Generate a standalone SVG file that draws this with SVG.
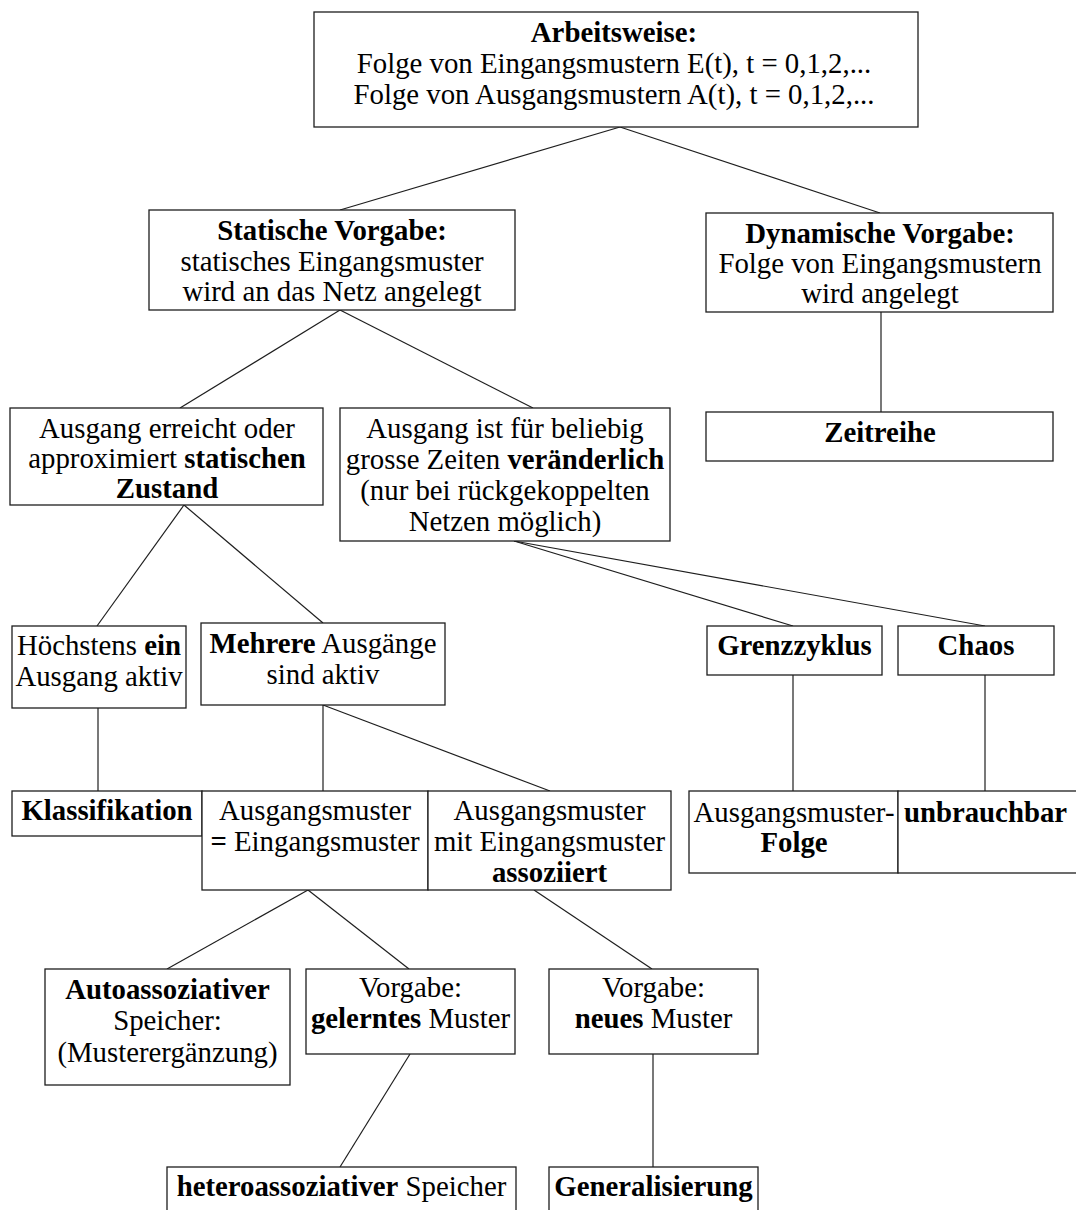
<svg xmlns="http://www.w3.org/2000/svg" width="1076" height="1210" viewBox="0 0 1076 1210">
  <style>
    .box { fill: #ffffff; stroke: #1e1e1e; stroke-width: 1.3; }
    .edge { fill: none; stroke: #1e1e1e; stroke-width: 1.2; }
    text { font-family: "Liberation Serif", "Times New Roman", serif; font-size: 28.8px; fill: #000000; text-anchor: middle; }
    .b { font-weight: bold; }
  </style>
  <rect x="0" y="0" width="1076" height="1210" fill="#ffffff"/>

  <!-- connectors -->
  <g id="connectors">
    <line class="edge" x1="620" y1="127" x2="340" y2="210"/>
    <line class="edge" x1="620" y1="127" x2="880" y2="213"/>
    <line class="edge" x1="881" y1="312" x2="881" y2="412"/>
    <line class="edge" x1="340" y1="310" x2="180" y2="408"/>
    <line class="edge" x1="340" y1="310" x2="533" y2="408"/>
    <line class="edge" x1="184" y1="505" x2="97" y2="626"/>
    <line class="edge" x1="184" y1="505" x2="323" y2="623"/>
    <line class="edge" x1="514" y1="541" x2="793" y2="626"/>
    <line class="edge" x1="514" y1="541" x2="985" y2="626"/>
    <line class="edge" x1="98" y1="708" x2="98" y2="791"/>
    <line class="edge" x1="323" y1="705" x2="323" y2="791"/>
    <line class="edge" x1="323" y1="705" x2="550" y2="791"/>
    <line class="edge" x1="793" y1="675" x2="793" y2="791"/>
    <line class="edge" x1="985" y1="675" x2="985" y2="791"/>
    <line class="edge" x1="308" y1="890" x2="167" y2="969"/>
    <line class="edge" x1="308" y1="890" x2="409" y2="969"/>
    <line class="edge" x1="534" y1="890" x2="652" y2="969"/>
    <line class="edge" x1="410" y1="1054" x2="340" y2="1167"/>
    <line class="edge" x1="653" y1="1054" x2="653" y2="1167"/>
  </g>

  <g id="arbeitsweise">
    <rect class="box" x="314" y="12" width="604" height="115"/>
    <text x="614" y="42"><tspan class="b">Arbeitsweise:</tspan></text>
    <text x="614" y="73">Folge von Eingangsmustern E(t), t = 0,1,2,...</text>
    <text x="614" y="104">Folge von Ausgangsmustern A(t), t = 0,1,2,...</text>
  </g>

  <g id="statisch">
    <rect class="box" x="149" y="210" width="366" height="100"/>
    <text x="332" y="240" class="b">Statische Vorgabe:</text>
    <text x="332" y="271">statisches Eingangsmuster</text>
    <text x="332" y="301">wird an das Netz angelegt</text>
  </g>

  <g id="dynamisch">
    <rect class="box" x="706" y="213" width="347" height="99"/>
    <text x="880" y="243" class="b">Dynamische Vorgabe:</text>
    <text x="880" y="273">Folge von Eingangsmustern</text>
    <text x="880" y="303">wird angelegt</text>
  </g>

  <g id="zeitreihe">
    <rect class="box" x="706" y="412" width="347" height="49"/>
    <text x="880" y="442" class="b">Zeitreihe</text>
  </g>

  <g id="statischer-zustand">
    <rect class="box" x="10" y="408" width="313" height="97"/>
    <text x="167" y="438">Ausgang erreicht oder</text>
    <text x="167" y="468">approximiert <tspan class="b">statischen</tspan></text>
    <text x="167" y="498" class="b">Zustand</text>
  </g>

  <g id="veraenderlich">
    <rect class="box" x="340" y="408" width="330" height="133"/>
    <text x="505" y="438">Ausgang ist für beliebig</text>
    <text x="505" y="469">grosse Zeiten <tspan class="b">veränderlich</tspan></text>
    <text x="505" y="500">(nur bei rückgekoppelten</text>
    <text x="505" y="531">Netzen möglich)</text>
  </g>

  <g id="ein-ausgang">
    <rect class="box" x="12" y="626" width="174" height="82"/>
    <text x="99" y="655">Höchstens <tspan class="b">ein</tspan></text>
    <text x="99" y="686">Ausgang aktiv</text>
  </g>

  <g id="mehrere">
    <rect class="box" x="201" y="623" width="244" height="82"/>
    <text x="323" y="653"><tspan class="b">Mehrere</tspan> Ausgänge</text>
    <text x="323" y="684">sind aktiv</text>
  </g>

  <g id="grenzzyklus">
    <rect class="box" x="707" y="626" width="175" height="49"/>
    <text x="794.5" y="655" class="b">Grenzzyklus</text>
  </g>

  <g id="chaos">
    <rect class="box" x="898" y="626" width="156" height="49"/>
    <text x="976" y="655" class="b">Chaos</text>
  </g>

  <g id="klassifikation">
    <rect class="box" x="12" y="791" width="190" height="45"/>
    <text x="107" y="820" class="b">Klassifikation</text>
  </g>

  <g id="gleich">
    <rect class="box" x="202" y="791" width="226" height="99"/>
    <text x="315" y="820">Ausgangsmuster</text>
    <text x="315" y="851"><tspan class="b">=</tspan> Eingangsmuster</text>
  </g>

  <g id="assoziiert">
    <rect class="box" x="428" y="791" width="243" height="99"/>
    <text x="549.5" y="820">Ausgangsmuster</text>
    <text x="549.5" y="851">mit Eingangsmuster</text>
    <text x="549.5" y="882" class="b">assoziiert</text>
  </g>

  <g id="folge">
    <rect class="box" x="689" y="791" width="209" height="82"/>
    <text x="794" y="822">Ausgangsmuster-</text>
    <text x="794" y="852" class="b">Folge</text>
  </g>

  <g id="unbrauchbar">
    <rect class="box" x="898" y="791" width="190" height="82"/>
    <text x="985.5" y="822" class="b">unbrauchbar</text>
  </g>

  <g id="autoassoziativ">
    <rect class="box" x="45" y="969" width="245" height="116"/>
    <text x="167.5" y="999" class="b">Autoassoziativer</text>
    <text x="167.5" y="1030">Speicher:</text>
    <text x="167.5" y="1062">(Musterergänzung)</text>
  </g>

  <g id="gelernt">
    <rect class="box" x="306" y="969" width="209" height="85"/>
    <text x="410.5" y="997">Vorgabe:</text>
    <text x="410.5" y="1028"><tspan class="b">gelerntes</tspan> Muster</text>
  </g>

  <g id="neu">
    <rect class="box" x="549" y="969" width="209" height="85"/>
    <text x="653.5" y="997">Vorgabe:</text>
    <text x="653.5" y="1028"><tspan class="b">neues</tspan> Muster</text>
  </g>

  <g id="heteroassoziativ">
    <rect class="box" x="167" y="1167" width="349" height="60"/>
    <text x="341.5" y="1196"><tspan class="b">heteroassoziativer</tspan> Speicher</text>
  </g>

  <g id="generalisierung">
    <rect class="box" x="549" y="1167" width="209" height="60"/>
    <text x="653.5" y="1196" class="b">Generalisierung</text>
  </g>
</svg>
